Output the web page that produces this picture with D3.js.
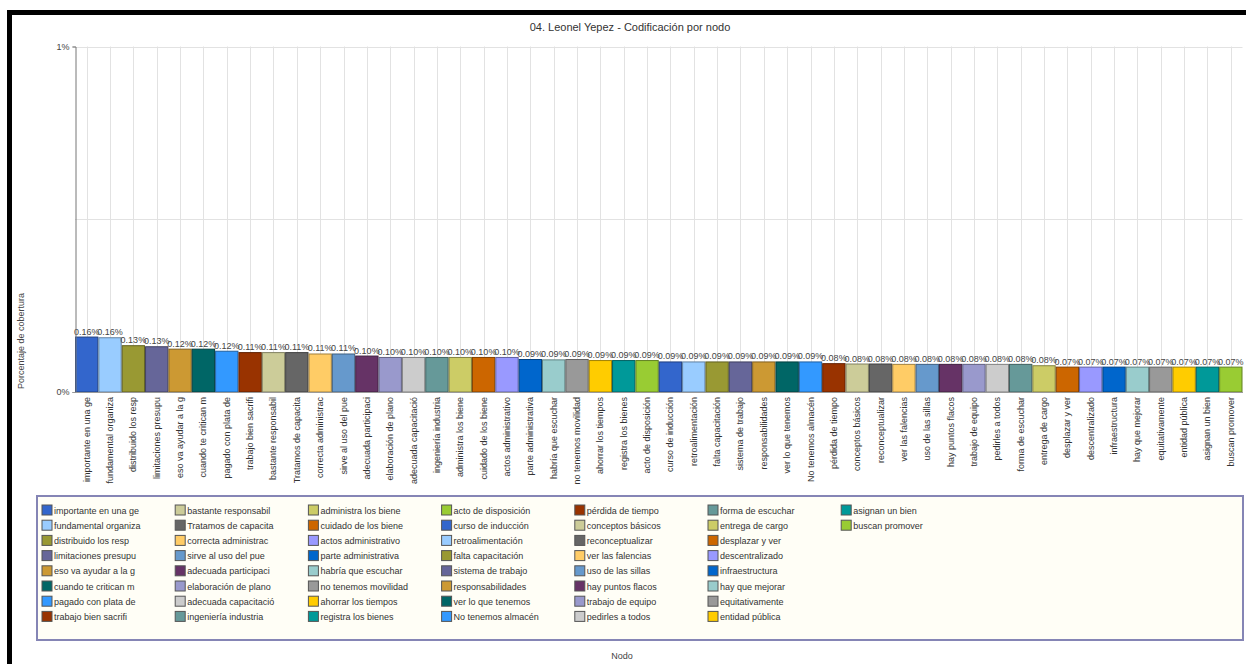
<!DOCTYPE html>
<html><head><meta charset="utf-8">
<script src="https://cdn.jsdelivr.net/npm/d3@7"></script>
<style>
body{margin:0;background:#fff;}
svg{display:block;font-family:"Liberation Sans",Arial,sans-serif;}
</style>
</head><body>
<svg id="chart" width="1246" height="664"></svg>
<script>
const chartTitle = "04. Leonel Yepez - Codificación por nodo";
const yTitle = "Porcentaje de cobertura";
const xTitle = "Nodo";
const categories = [
  "importante en una ge","fundamental organiza","distribuido los resp","limitaciones presupu",
  "eso va ayudar a la g","cuando te critican m","pagado con plata de","trabajo bien sacrifi",
  "bastante responsabil","Tratamos de capacita","correcta administrac","sirve al uso del pue",
  "adecuada participaci","elaboración de plano","adecuada capacitació","ingeniería industria",
  "administra los biene","cuidado de los biene","actos administrativo","parte administrativa",
  "habría que escuchar","no tenemos movilidad","ahorrar los tiempos","registra los bienes",
  "acto de disposición","curso de inducción","retroalimentación","falta capacitación",
  "sistema de trabajo","responsabilidades","ver lo que tenemos","No tenemos almacén",
  "pérdida de tiempo","conceptos básicos","reconceptualizar","ver las falencias",
  "uso de las sillas","hay puntos flacos","trabajo de equipo","pedirles  a todos",
  "forma de escuchar","entrega de cargo","desplazar y ver","descentralizado",
  "infraestructura","hay que mejorar","equitativamente","entidad pública",
  "asignan un bien","buscan promover"
];
const values = [
  0.159,0.157,0.134,0.131,0.124,0.124,0.118,0.114,
  0.114,0.114,0.110,0.110,0.104,0.100,0.100,0.100,
  0.100,0.100,0.100,0.094,0.093,0.094,0.091,0.091,
  0.091,0.087,0.087,0.087,0.087,0.087,0.087,0.087,
  0.082,0.081,0.081,0.080,0.080,0.080,0.080,0.080,
  0.080,0.076,0.072,0.072,0.072,0.072,0.072,0.072,
  0.072,0.072
];
const palette = [
  "#3366cc","#99ccff","#999933","#666699","#cc9933","#006666","#3399ff","#993300",
  "#cccc99","#666666","#ffcc66","#6699cc","#663366","#9999cc","#cccccc","#669999",
  "#cccc66","#cc6600","#9999ff","#0066cc","#99cccc","#999999","#ffcc00","#009999",
  "#99cc33"
];
const yTicks = [0, 1];
const yGridLines = [0.5, 1];

const svg = d3.select("#chart");
const W = 1246, H = 664;
const plot = {left: 75, right: 1242.5, top: 46.5, bottom: 392};

// frame borders (black top and left)
svg.append("rect").attr("x", 0).attr("y", 0).attr("width", W).attr("height", H).attr("fill", "#fff");
svg.append("rect").attr("x", 7).attr("y", 10).attr("width", W - 7).attr("height", 5).attr("fill", "#000");
svg.append("rect").attr("x", 7).attr("y", 10).attr("width", 5).attr("height", H - 10).attr("fill", "#000");

const x = d3.scaleBand().domain(categories).range([plot.left, plot.right]).padding(0);
const y = d3.scaleLinear().domain([0, 1]).range([plot.bottom, plot.top]);
const color = d3.scaleOrdinal().domain(categories).range(categories.map((d, i) => palette[i % palette.length]));

// title
svg.append("text").attr("x", 630).attr("y", 31).attr("text-anchor", "middle")
  .attr("font-size", 11).attr("fill", "#333").text(chartTitle);

// gridlines
svg.append("g").selectAll("line.h").data(yGridLines).join("line")
  .attr("x1", plot.left).attr("x2", plot.right)
  .attr("y1", d => Math.round(y(d)) + 0.5).attr("y2", d => Math.round(y(d)) + 0.5)
  .attr("stroke", "#e2e2e2").attr("stroke-width", 1);
svg.append("g").selectAll("line.v").data(categories).join("line")
  .attr("x1", d => Math.round(x(d) + x.bandwidth() / 2) + 0.5)
  .attr("x2", d => Math.round(x(d) + x.bandwidth() / 2) + 0.5)
  .attr("y1", plot.top).attr("y2", plot.bottom)
  .attr("stroke", "#e2e2e2").attr("stroke-width", 1);

// bars
svg.append("g").selectAll("rect").data(categories).join("rect")
  .attr("x", d => x(d) + 0.5)
  .attr("y", (d, i) => y(values[i]))
  .attr("width", x.bandwidth() - 1)
  .attr("height", (d, i) => y(0) - y(values[i]))
  .attr("fill", d => color(d))
  .attr("stroke", d => d3.color(color(d)).darker(1.3))
  .attr("stroke-width", 1);

// value labels
svg.append("g").selectAll("text").data(categories).join("text")
  .attr("x", d => x(d) + x.bandwidth() / 2)
  .attr("y", (d, i) => y(values[i]) - 2.5)
  .attr("text-anchor", "middle").attr("font-size", 9).attr("fill", "#444")
  .text((d, i) => values[i].toFixed(2) + "%");

// y axis
const yAxis = d3.axisLeft(y).tickValues(yTicks).tickFormat(d => d + "%").tickSize(3);
const gy = svg.append("g").attr("transform", `translate(${plot.left + 0.5},0)`).call(yAxis);
gy.select(".domain").attr("stroke", "#777");
gy.selectAll(".tick line").attr("stroke", "#999");
gy.selectAll(".tick text").attr("font-size", 9).attr("fill", "#444").attr("font-family", "Liberation Sans, Arial, sans-serif");

// x axis
const xAxis = d3.axisBottom(x).tickSize(0);
const gx = svg.append("g").attr("transform", `translate(0,${plot.bottom})`).call(xAxis);
gx.select(".domain").attr("stroke", "#999");
gx.selectAll(".tick text")
  .attr("font-size", 9).attr("fill", "#333").attr("font-family", "Liberation Sans, Arial, sans-serif")
  .attr("text-anchor", "end").attr("transform", "rotate(-90)")
  .attr("x", -5).attr("y", 0).attr("dy", "0.33em");

// axis titles
svg.append("text").attr("transform", "translate(24,341) rotate(-90)")
  .attr("text-anchor", "middle").attr("font-size", 9).attr("fill", "#444").text(yTitle);
svg.append("text").attr("x", 622).attr("y", 659).attr("text-anchor", "middle")
  .attr("font-size", 9).attr("fill", "#444").text(xTitle);

// legend
svg.append("rect").attr("x", 37).attr("y", 496).attr("width", 1206).attr("height", 144)
  .attr("fill", "#fffef6").attr("stroke", "#8585b5").attr("stroke-width", 2);
const leg = svg.append("g").selectAll("g").data(categories).join("g")
  .attr("transform", (d, i) => `translate(${42 + Math.floor(i / 8) * 133.2},${505 + (i % 8) * 15.2})`);
leg.append("rect").attr("x", 0).attr("y", 0).attr("width", 10).attr("height", 10)
  .attr("fill", d => color(d)).attr("stroke", "#555").attr("stroke-width", 1);
leg.append("text").attr("x", 12).attr("y", 8.5).attr("font-size", 9).attr("fill", "#333").text(d => d);
</script>
</body></html>
